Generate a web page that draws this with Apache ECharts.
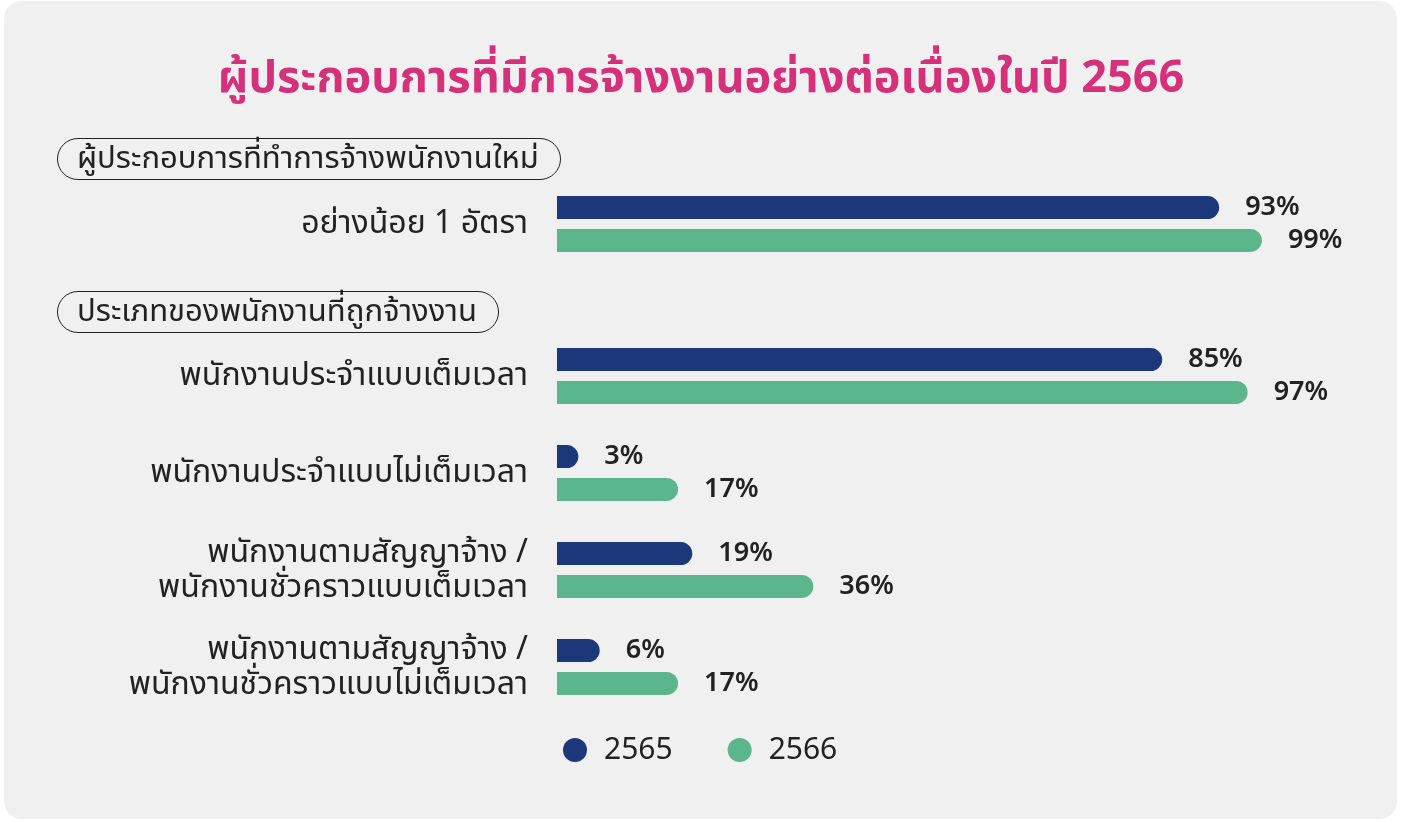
<!DOCTYPE html>
<html>
<head>
<meta charset="utf-8">
<script src="https://cdn.jsdelivr.net/npm/echarts@6/dist/echarts.min.js"></script>
<style>
    html, body { margin: 0; padding: 0; background: #ffffff; }
    #chart { width: 1402px; height: 822px; }
</style>
</head>
<body>
<div id="chart"></div>
<script>

const seriesNames = ["2565", "2566"];

const topCategories = ["อย่างน้อย 1 อัตรา"];
const topValues2565 = [93];
const topValues2566 = [99];

const typeCategories = [
    "พนักงานประจำแบบเต็มเวลา",
    "พนักงานประจำแบบไม่เต็มเวลา",
    "พนักงานตามสัญญาจ้าง /\nพนักงานชั่วคราวแบบเต็มเวลา",
    "พนักงานตามสัญญาจ้าง /\nพนักงานชั่วคราวแบบไม่เต็มเวลา"
];
const typeValues2565 = [85, 3, 19, 6];
const typeValues2566 = [97, 17, 36, 17];

const colors = ["#1c377a", "#5bb78b"];
const FONT = "'Noto Sans', 'Noto Sans Thai', sans-serif";

const chart = echarts.init(document.getElementById("chart"));

function barSeries(name, data, axisIndex, color) {

    return {
        name: name,
        type: "bar",
        xAxisIndex: axisIndex,
        yAxisIndex: axisIndex,
        data: data,
        barWidth: 23,
        barGap: "43%",
        itemStyle: {
            color: color,
            borderRadius: [0, 12, 12, 0]
        },
        label: {
            show: true,
            position: "right",
            distance: 26,
            formatter: "{c}%",
            fontFamily: FONT,
            fontSize: 27,
            fontWeight: 600,
            color: "#222222"
        }
    };
}

function yAxis(index, cats) {

    return {
        type: "category",
        gridIndex: index,
        data: cats,
        inverse: true,
        axisLine: { show: false },
        axisTick: { show: false },
        axisLabel: {
            margin: 29,
            fontFamily: FONT,
            fontSize: 32,
            lineHeight: 35,
            color: "#222222",
            align: "right"
        }
    };
}

function xAxis(index) {

    return {
        type: "value",
        gridIndex: index,
        min: 0,
        max: 100,
        show: false,
        splitLine: { show: false }
    };
}

function pill(text, top) {

    return {
        text: text,
        left: 57,
        top: top,
        padding: [4, 22, 4, 20],
        borderWidth: 1,
        borderColor: "#222222",
        borderRadius: 21,
        textStyle: {
            fontFamily: FONT,
            fontSize: 31,
            fontWeight: "normal",
            lineHeight: 34,
            color: "#222222"
        }
    };
}

chart.setOption({

    backgroundColor: "#ffffff",

    graphic: [
        {
            type: "rect",
            z: -10,
            shape: { x: 4, y: 1, width: 1393, height: 818, r: 18 },
            style: { fill: "#f0f0f0" }
        }
    ],

    title: [
        {
            text: "ผู้ประกอบการที่มีการจ้างงานอย่างต่อเนื่องในปี 2566",
            left: "center",
            top: 52,
            textStyle: {
                fontFamily: FONT,
                fontSize: 45,
                fontWeight: "bold",
                color: "#d6307a"
            }
        },
        pill("ผู้ประกอบการที่ทำการจ้างพนักงานใหม่", 138),
        pill("ประเภทของพนักงานที่ถูกจ้างงาน", 291)
    ],

    legend: {
        data: seriesNames,
        left: 558,
        top: 730,
        icon: "circle",
        itemWidth: 24,
        itemHeight: 24,
        itemGap: 55,
        textStyle: {
            fontFamily: FONT,
            fontSize: 30,
            color: "#222222",
            padding: [0, 0, 0, 12]
        }
    },

    grid: [
        { left: 557, width: 712, top: 175.5, height: 97 },
        { left: 557, width: 712, top: 327.5, height: 388 }
    ],

    xAxis: [xAxis(0), xAxis(1)],
    yAxis: [yAxis(0, topCategories), yAxis(1, typeCategories)],

    series: [
        barSeries(seriesNames[0], topValues2565, 0, colors[0]),
        barSeries(seriesNames[1], topValues2566, 0, colors[1]),
        barSeries(seriesNames[0], typeValues2565, 1, colors[0]),
        barSeries(seriesNames[1], typeValues2566, 1, colors[1])
    ]
});

</script>
</body>
</html>
